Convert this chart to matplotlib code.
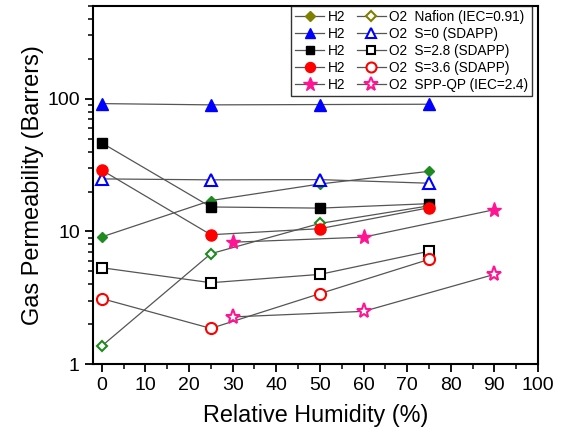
import matplotlib
matplotlib.use('Agg')
import matplotlib.pyplot as plt
from matplotlib.lines import Line2D

plt.rcParams['font.family'] = ['Liberation Sans', 'DejaVu Sans']

# Relative humidity (%) for each sample
rh_sdapp = [0, 25, 50, 75]
rh_spp = [30, 60, 90]

# Gas permeability (Barrers)
nafion_h2 = [9.1, 17.1, 22.8, 28.4]
nafion_o2 = [1.37, 6.8, 11.5, 15.6]
s0_h2 = [92, 90, 90.5, 91]
s0_o2 = [24.9, 24.5, 24.6, 23.1]
s28_h2 = [46.5, 15.3, 15.0, 16.2]
s28_o2 = [5.33, 4.11, 4.75, 7.1]
s36_h2 = [29, 9.45, 10.5, 15.1]
s36_o2 = [3.12, 1.86, 3.4, 6.16]
spp_h2 = [8.3, 9.06, 14.6]
spp_o2 = [2.27, 2.5, 4.75]

labels = ['Nafion (IEC=0.91)', 'S=0 (SDAPP)', 'S=2.8 (SDAPP)',
          'S=3.6 (SDAPP)', 'SPP-QP (IEC=2.4)']

fig = plt.figure(figsize=(5.64, 4.33), dpi=100)
ax = fig.add_axes([0.165, 0.159, 0.789, 0.827])

line_c = '#555555'
lw = 0.9

# x, H2, O2, marker, plot colour, legend colour, marker size
series = [
    (rh_sdapp, nafion_h2, nafion_o2, 'D', '#1f8a1f', '#808000', 5.5),
    (rh_sdapp, s0_h2, s0_o2, '^', '#0000ff', '#0000ff', 8.5),
    (rh_sdapp, s28_h2, s28_o2, 's', 'black', 'black', 7),
    (rh_sdapp, s36_h2, s36_o2, 'o', '#ff0000', '#ff0000', 8),
    (rh_spp, spp_h2, spp_o2, '*', '#ff1493', '#ff1493', 11),
]

h2_handles = []
o2_handles = []
for x, h2, o2, mk, col, leg_col, ms in series:
    ax.plot(x, h2, color=line_c, lw=lw, marker=mk, ms=ms,
            mfc=col, mec=col, zorder=3)
    ax.plot(x, o2, color=line_c, lw=lw, marker=mk, ms=ms,
            mfc='white', mec=col, mew=1.5, zorder=3)
    # legend markers are a little smaller than on the plot
    h2_handles.append(Line2D([], [], color=line_c, lw=lw, marker=mk,
                             ms=ms * 0.9, mfc=leg_col, mec=leg_col))
    o2_handles.append(Line2D([], [], color=line_c, lw=lw, marker=mk,
                             ms=ms * 0.9, mfc='white', mec=leg_col, mew=1.5))

ax.set_yscale('log')
ax.set_ylim(1, 500)
ax.set_xlim(-2, 100)
ax.set_xticks(range(0, 101, 10))
ax.set_xticks(range(5, 100, 10), minor=True)
ax.set_yticks([1, 10, 100])
ax.set_yticklabels(['1', '10', '100'])

ax.tick_params(axis='both', which='major', labelsize=14, direction='out',
               length=6, width=1.3)
ax.tick_params(axis='both', which='minor', direction='out', length=3.5,
               width=1.1, labelleft=False)
for s in ax.spines.values():
    s.set_linewidth(1.5)

ax.set_xlabel('Relative Humidity (%)', fontsize=16.8, labelpad=7)
ax.set_ylabel('Gas Permeability (Barrers)', fontsize=17, labelpad=2)

leg_labels = ['H2'] * 5 + ['O2  ' + l for l in labels]
leg = ax.legend(h2_handles + o2_handles, leg_labels, ncol=2,
                loc='upper right', bbox_to_anchor=(0.987, 1.0),
                fontsize=9.8, frameon=True, fancybox=False,
                handlelength=2.1, handletextpad=0.25, columnspacing=0.9,
                labelspacing=0.22, borderpad=0.3, borderaxespad=0.0)
leg.get_frame().set_edgecolor('black')
leg.get_frame().set_linewidth(1.0)

fig.savefig('out.png', dpi=100)
